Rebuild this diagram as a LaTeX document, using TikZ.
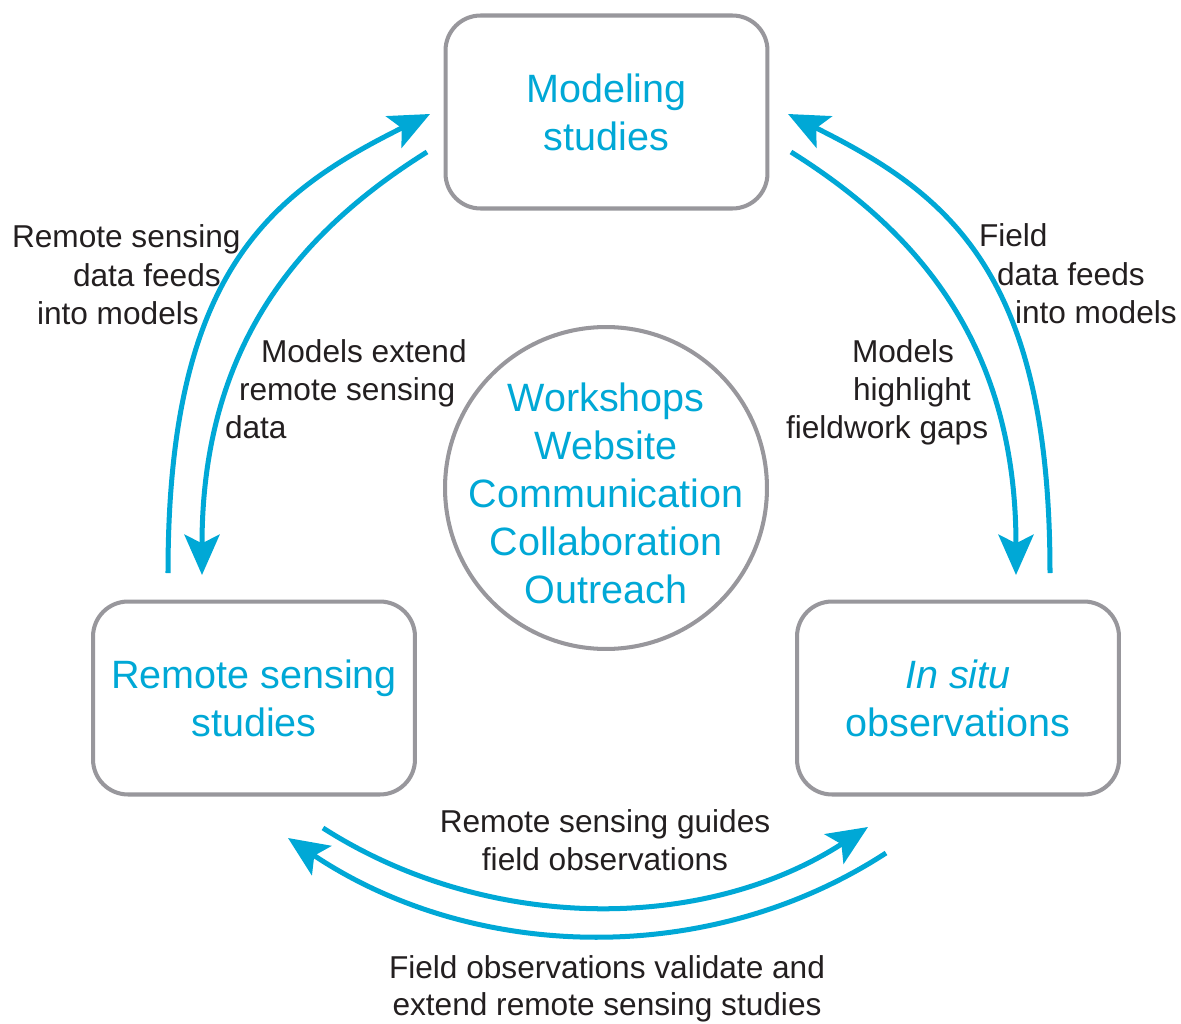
\documentclass[tikz,border=0pt]{standalone}
\usepackage{fontspec}
\setmainfont{Liberation Sans}
\usetikzlibrary{arrows.meta}
\definecolor{cyanA}{HTML}{00A8D6}
\definecolor{boxgray}{HTML}{98979C}
\definecolor{txtblack}{HTML}{231F20}
\tikzset{
  stagebox/.style={draw=boxgray, line width=2.3pt, rounded corners=0.7cm,
    minimum width=6.44cm, minimum height=3.86cm, inner sep=0pt, align=center,
    text=cyanA, font=\fontsize{22.5}{27.3}\selectfont},
  hubcircle/.style={draw=boxgray, line width=2.3pt, circle, minimum size=6.44cm,
    inner sep=0pt},
  hubtext/.style={inner sep=0pt, align=center, text=cyanA, font=\fontsize{22.5}{27.3}\selectfont},
  lbl/.style={inner sep=0pt, outer sep=0pt, text=txtblack, font=\fontsize{18}{21.6}\selectfont},
  flow/.style={draw=cyanA, line width=2.85pt,
    -{Stealth[length=23pt,width=20pt,inset=5pt]}},
}
\begin{document}
\begin{tikzpicture}[x=0.02cm, y=-0.02cm]
\fill[white] (0,0) rectangle (1181,1024);
\useasboundingbox (0,0) rectangle (1181,1024);

% main nodes
\node[stagebox] (model) at (606.5,112) {Modeling\\studies};
\node[stagebox] (remote) at (254,698) {Remote sensing\\studies};
\node[stagebox] (insitu) at (958,698) {\textit{In situ}\\observations};
\node[hubcircle] (hub) at (606,488) {};
\node[hubtext] (hubtxt) at (606,493) {Workshops\\Website\\Communication\\Collaboration\\Outreach};

% connector end points
\coordinate (lo1) at (168,573);
\coordinate (lo2) at (430,114);
\coordinate (li1) at (427,152);
\coordinate (li2) at (202,575);
\coordinate (ro1) at (1050,573);
\coordinate (ro2) at (788,114);
\coordinate (ri1) at (791,152);
\coordinate (ri2) at (1016,575);
\coordinate (bi1) at (323,828);
\coordinate (bi2) at (868,827);
\coordinate (bo1) at (886,853);
\coordinate (bo2) at (288,838);

% connectors
\draw[flow] (lo1) .. controls (168,273) and (269,194) .. (lo2);
\draw[flow] (li1) .. controls (300,231.5) and (202,345) .. (li2);
\draw[flow] (ro1) .. controls (1050,273) and (949,194) .. (ro2);
\draw[flow] (ri1) .. controls (918,231.5) and (1016,345) .. (ri2);
\draw[flow] (bi1) .. controls (487,933) and (704,933) .. (bi2);
\draw[flow] (bo1) .. controls (706,970) and (470,960) .. (bo2);

% labels left
\node[lbl, anchor=base west] (l1a) at (12,248) {Remote sensing};
\node[lbl, anchor=base west] (l1b) at (73,286) {data feeds};
\node[lbl, anchor=base west] (l1c) at (37,324) {into models};
\node[lbl, anchor=base west] (l2a) at (261,362) {Models extend};
\node[lbl, anchor=base west] (l2b) at (239,400) {remote sensing};
\node[lbl, anchor=base west] (l2c) at (225,438) {data};
% labels right
\node[lbl, anchor=base west] (r1a) at (979,247) {Field};
\node[lbl, anchor=base west] (r1b) at (997,285) {data feeds};
\node[lbl, anchor=base west] (r1c) at (1015,323) {into models};
\node[lbl, anchor=base west] (r2a) at (852,362) {Models};
\node[lbl, anchor=base west] (r2b) at (853,400) {highlight};
\node[lbl, anchor=base west] (r2c) at (786,438) {fieldwork gaps};
% labels bottom
\node[lbl, anchor=base] (b1a) at (605,832) {Remote sensing guides};
\node[lbl, anchor=base] (b1b) at (605,870) {field observations};
\node[lbl, anchor=base] (b2a) at (607,978) {Field observations validate and};
\node[lbl, anchor=base] (b2b) at (607,1015) {extend remote sensing studies};
\end{tikzpicture}
\end{document}
